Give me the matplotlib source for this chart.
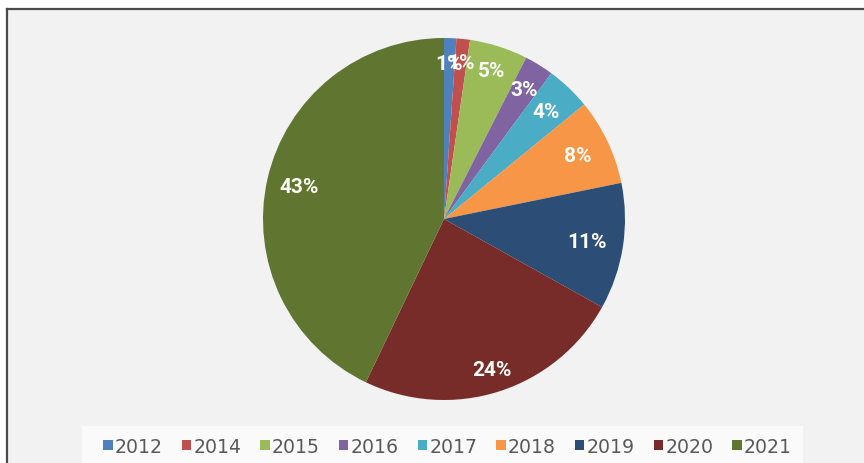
import matplotlib.pyplot as plt
import numpy as np
from matplotlib.patches import Rectangle
from matplotlib.lines import Line2D

years = ['2012', '2014', '2015', '2016', '2017', '2018', '2019', '2020', '2021']
shares = [1.1, 1.2, 5.2, 2.6, 4.0, 7.7, 11.3, 24.0, 42.9]
colors = ['#4F81BD', '#C0504D', '#9BBB59', '#8064A2', '#4BACC6',
          '#F79646', '#2C4D75', '#772C2A', '#5F7530']

# radial position of each percentage label (fraction of the radius)
label_r = [0.86, 0.87, 0.86, 0.84, 0.82, 0.82, 0.80, 0.87, 0.82]

W, H = 864, 464
fig = plt.figure(figsize=(W / 100, H / 100), dpi=100, facecolor='white')

# chart area background and its top/left border
fig.add_artist(Rectangle((7 / W, 0), 1, (H - 10) / H, transform=fig.transFigure,
                         facecolor='#f2f2f2', edgecolor='none', zorder=0))
fig.add_artist(Rectangle((82 / W, 0), (803 - 82) / W, (H - 427) / H,
                         transform=fig.transFigure, facecolor='#fafafa',
                         edgecolor='none', zorder=0))
fig.add_artist(Line2D([6.5 / W, 1], [(H - 9.5) / H] * 2, color='#4a4a4a', lw=1.6))
fig.add_artist(Line2D([6.5 / W] * 2, [0, (H - 9.5) / H], color='#4a4a4a', lw=1.6))

cx, cy, r = 444, 220, 181
ax = fig.add_axes([(cx - r) / W, (H - cy - r) / H, 2 * r / W, 2 * r / H])

wedges, texts, autotexts = ax.pie(
    shares, colors=colors, startangle=90, counterclock=False,
    autopct=lambda p: f'{p:.0f}%', pctdistance=0.84,
    wedgeprops=dict(linewidth=0),
    textprops=dict(color='#fbfbf6', fontsize=15, fontweight='bold',
                   family=['Roboto', 'DejaVu Sans']))
for w, t, f in zip(wedges, autotexts, label_r):
    a = np.radians((w.theta1 + w.theta2) / 2)
    t.set_position((f * np.cos(a), f * np.sin(a)))

ax.set_xlim(-1, 1)
ax.set_ylim(-1, 1)
ax.set_aspect('equal')
ax.axis('off')

leg = fig.legend(wedges, years, loc='center', bbox_to_anchor=(447.5 / W, (H - 447.5) / H),
                 ncol=len(years), frameon=False, handlelength=0.5, handleheight=0.45,
                 handletextpad=0.12, columnspacing=1.0, borderpad=0,
                 prop=dict(family='DejaVu Sans', size=13.6))
for t in leg.get_texts():
    t.set_color('#595959')

fig.savefig('out.png', dpi=100, facecolor='white')
